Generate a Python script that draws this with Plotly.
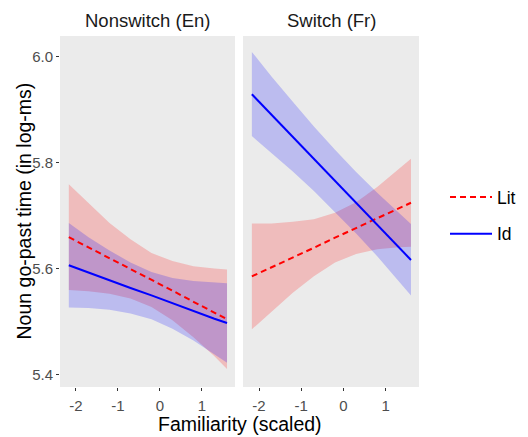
import plotly.graph_objects as go

# ---- data ----
x_pts = [-2.17, -1.7, -1.2, -0.7, -0.2, 0.3, 0.8, 1.3, 1.6]
tick_vals = [-2, -1, 0, 1]
tick_text = ["-2", "-1", "0", "1"]
y_tick_vals = [5.4, 5.6, 5.8, 6.0]
y_tick_text = ["5.4", "5.6", "5.8", "6.0"]
panels = ["Nonswitch (En)", "Switch (Fr)"]

# Nonswitch (En)
ns_lit_fit = [5.659, 5.640, 5.619, 5.599, 5.578, 5.558, 5.537, 5.517, 5.504]
ns_lit_up = [5.759, 5.723, 5.686, 5.655, 5.629, 5.614, 5.604, 5.600, 5.598]
ns_lit_lo = [5.559, 5.557, 5.552, 5.543, 5.527, 5.502, 5.470, 5.434, 5.410]
ns_id_fit = [5.606, 5.592, 5.578, 5.563, 5.549, 5.534, 5.520, 5.505, 5.497]
ns_id_up = [5.686, 5.659, 5.634, 5.611, 5.593, 5.582, 5.576, 5.573, 5.572]
ns_id_lo = [5.526, 5.525, 5.522, 5.515, 5.504, 5.486, 5.464, 5.438, 5.422]

# Switch (Fr)
sw_lit_fit = [5.585, 5.602, 5.621, 5.639, 5.658, 5.676, 5.695, 5.713, 5.724]
sw_lit_up = [5.685, 5.685, 5.688, 5.693, 5.705, 5.725, 5.754, 5.786, 5.807]
sw_lit_lo = [5.485, 5.519, 5.554, 5.585, 5.611, 5.627, 5.636, 5.640, 5.641]
sw_id_fit = [5.929, 5.890, 5.849, 5.807, 5.766, 5.724, 5.683, 5.641, 5.616]
sw_id_up = [6.009, 5.962, 5.915, 5.868, 5.824, 5.782, 5.743, 5.705, 5.684]
sw_id_lo = [5.850, 5.818, 5.783, 5.746, 5.707, 5.666, 5.623, 5.577, 5.549]

FONT = "Arial, Liberation Sans, sans-serif"
RED = "#FF0000"
BLUE = "#0000FF"
RED_FILL = "rgba(255,0,0,0.2)"
BLUE_FILL = "rgba(0,0,255,0.2)"

fig = go.Figure()

panel_data = [
    ("x", "y", ns_lit_fit, ns_lit_up, ns_lit_lo, ns_id_fit, ns_id_up, ns_id_lo),
    ("x2", "y2", sw_lit_fit, sw_lit_up, sw_lit_lo, sw_id_fit, sw_id_up, sw_id_lo),
]

for i, (xa, ya, lf, lu, ll, idf, iu, il) in enumerate(panel_data):
    # ribbons first (Lit then Id)
    for up, lo, fc, grp in [(lu, ll, RED_FILL, "Lit"), (iu, il, BLUE_FILL, "Id")]:
        fig.add_trace(go.Scatter(
            x=x_pts + x_pts[::-1], y=up + lo[::-1], xaxis=xa, yaxis=ya,
            fill="toself", fillcolor=fc, line=dict(width=0), mode="lines",
            showlegend=False, hoverinfo="skip", legendgroup=grp))
    fig.add_trace(go.Scatter(
        x=x_pts, y=lf, xaxis=xa, yaxis=ya, mode="lines",
        line=dict(color=RED, width=2, dash="6px,4px"),
        name="Lit", legendgroup="Lit", showlegend=(i == 0)))
    fig.add_trace(go.Scatter(
        x=x_pts, y=idf, xaxis=xa, yaxis=ya, mode="lines",
        line=dict(color=BLUE, width=2),
        name="Id", legendgroup="Id", showlegend=(i == 0)))

W, H = 528, 437
L, R, T, B = 60, 109, 36, 50
pw = W - L - R
ph = H - T - B
d1 = (0, (235 - L) / pw)
d2 = ((243 - L) / pw, 1)

xcommon = dict(range=[-2.38, 1.79], tickvals=tick_vals, ticktext=tick_text,
               showgrid=False, zeroline=False, showline=False,
               ticks="outside", ticklen=3, tickwidth=1, tickcolor="#333333",
               ticklabelstandoff=2,
               tickfont=dict(family=FONT, size=15, color="#4D4D4D"))
ycommon = dict(range=[5.376, 6.039], tickvals=y_tick_vals, ticktext=y_tick_text,
               showgrid=False, zeroline=False, showline=False,
               ticklen=3, tickwidth=1, tickcolor="#333333",
               tickfont=dict(family=FONT, size=15, color="#4D4D4D"))

def px_to_paper_y(py):
    return (H - B - py) / ph

def px_to_paper_x(px):
    return (px - L) / pw

fig.update_layout(
    width=W, height=H,
    margin=dict(l=L, r=R, t=T, b=B, pad=0, autoexpand=False),
    paper_bgcolor="white", plot_bgcolor="#EBEBEB",
    xaxis=dict(domain=list(d1), anchor="y", automargin=False, **xcommon),
    xaxis2=dict(domain=list(d2), anchor="y2", automargin=False, **xcommon),
    yaxis=dict(domain=[0, 1], anchor="x", ticks="outside", automargin=False, **ycommon),
    yaxis2=dict(domain=[0, 1], anchor="x2", showticklabels=False, ticks="", automargin=False, **ycommon),
    showlegend=True,
    legend=dict(x=px_to_paper_x(445), y=px_to_paper_y(179), xanchor="left", yanchor="top",
                font=dict(family=FONT, size=17.5, color="#000000"),
                tracegroupgap=11, bgcolor="rgba(0,0,0,0)", traceorder="grouped",
                itemwidth=42),
    annotations=[
        dict(text=panels[0], x=px_to_paper_x(147.5), y=px_to_paper_y(21), xref="paper", yref="paper",
             showarrow=False, xanchor="center", yanchor="middle",
             font=dict(family=FONT, size=18.5, color="#1A1A1A")),
        dict(text=panels[1], x=px_to_paper_x(331), y=px_to_paper_y(21), xref="paper", yref="paper",
             showarrow=False, xanchor="center", yanchor="middle",
             font=dict(family=FONT, size=18.5, color="#1A1A1A")),
        dict(text="Familiarity (scaled)", x=px_to_paper_x(240), y=px_to_paper_y(424), xref="paper", yref="paper",
             showarrow=False, xanchor="center", yanchor="middle",
             font=dict(family=FONT, size=19.5, color="#000000")),
        dict(text="Noun go-past time (in log-ms)", x=px_to_paper_x(23), y=0.5, xref="paper", yref="paper",
             showarrow=False, xanchor="center", yanchor="middle", textangle=-90,
             font=dict(family=FONT, size=19.5, color="#000000")),
    ],
)

fig.write_html("out.html", config={"displayModeBar": False},
               post_script="document.body.style.margin='0';document.body.style.padding='0';")
